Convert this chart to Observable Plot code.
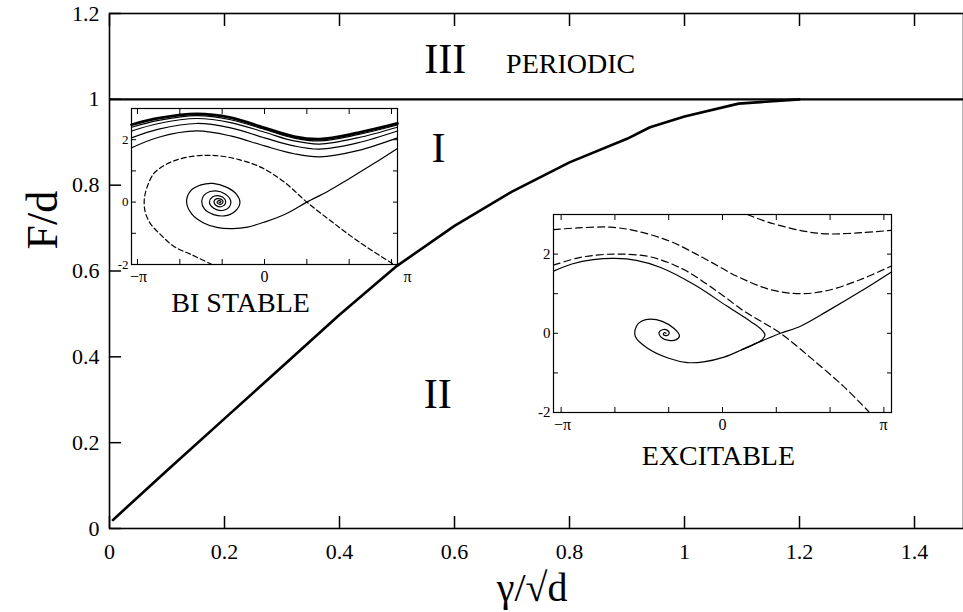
<!DOCTYPE html>
<html><head><meta charset="utf-8">
<script src="https://cdn.jsdelivr.net/npm/d3@7"></script>
<script src="https://cdn.jsdelivr.net/npm/@observablehq/plot@0.6"></script>
<style>
html,body{margin:0;padding:0;background:#fff;}
#wrap{position:relative;width:963px;height:612px;overflow:hidden;background:#fff;}
#wrap text{font-family:'Liberation Serif','Times New Roman','DejaVu Serif',serif;}
</style></head><body><div id="wrap"></div>
<script>
const SERIF = "'Liberation Serif', 'Times New Roman', 'DejaVu Serif', serif";

// ---- main phase diagram ----
const gammaValues = [0.006, 0.10, 0.20, 0.30, 0.40, 0.50, 0.60, 0.70, 0.80, 0.90, 0.94, 1.00, 1.094, 1.20];
const boundaryFd  = [0.02, 0.135, 0.256, 0.377, 0.498, 0.612, 0.705, 0.785, 0.853, 0.908, 0.935, 0.96, 0.99, 1.0];
const periodicFd = [1];
const xTickValues = [0, 0.2, 0.4, 0.6, 0.8, 1, 1.2, 1.4];
const yTickValues = [0, 0.2, 0.4, 0.6, 0.8, 1, 1.2];
const regionLabels = ["I", "II", "III", "PERIODIC"];
const insetTitles = ["BI STABLE", "EXCITABLE"];
const axisTitles = ["F/d", "γ/√d"];

// ---- phase-portrait insets (phase, velocity) ----
const phaseXTicks = [-3, -2, -1, 0, 1, 2, 3];
const phaseYTicks = [-2, -1, 0, 1, 2, 3];
const phaseXLabelValues = [-Math.PI, 0, Math.PI];
const phaseXLabels = ["−π", "0", "π"];
const phaseYLabelValues = [-2, 0, 2];
const phaseYLabels = ["-2", "0", "2"];

// BI STABLE
const runPhi = [-3.14, -2.5, -1.6, -0.8, 0, 0.7, 1.3, 2.2, 3.14];
const bsRun5 = [1.74, 2.08, 2.28, 2.12, 1.80, 1.55, 1.45, 1.65, 2.06];
const bsRun4 = [2.06, 2.34, 2.52, 2.38, 2.06, 1.80, 1.70, 1.90, 2.28];
const bsRun3 = [2.28, 2.52, 2.68, 2.55, 2.24, 1.96, 1.86, 2.06, 2.40];
const bsRun2 = [2.40, 2.62, 2.77, 2.64, 2.33, 2.05, 1.96, 2.16, 2.47];
const bsRun1 = [2.48, 2.69, 2.83, 2.71, 2.38, 2.10, 2.02, 2.22, 2.52];
const bsUnstable = [[3.14,1.72],[2.6,1.25],[2.0,0.75],[1.5,0.35],[1.0,0.0],[0.5,-0.38],[0.0,-0.64],[-0.4,-0.8],
  [-0.75,-0.85],[-1.1,-0.82],[-1.45,-0.66],[-1.72,-0.38],[-1.84,0.0],[-1.75,0.35],[-1.5,0.55],[-1.22,0.6],
  [-0.9,0.48],[-0.66,0.25],[-0.58,-0.02],[-0.7,-0.3],[-0.95,-0.44],[-1.2,-0.4],[-1.42,-0.22],[-1.48,0.05],
  [-1.38,0.28],[-1.15,0.36],[-0.93,0.26],[-0.8,0.05],[-0.84,-0.17],[-1.02,-0.27],[-1.2,-0.2],[-1.3,-0.02],
  [-1.23,0.16],[-1.07,0.2],[-0.94,0.1],[-0.93,-0.06],[-1.03,-0.15],[-1.15,-0.1],[-1.19,0.03],[-1.12,0.11],
  [-1.0,0.07],[-0.99,-0.03],[-1.06,-0.07],[-1.12,-0.01],[-1.08,0.05],[-1.03,0.02],[-1.05,-0.02],[-1.07,0.0]];
const bsStable = [[-1.24,-2.0],[-1.7,-1.7],[-2.14,-1.42],[-2.45,-1.05],[-2.70,-0.68],[-2.82,-0.3],[-2.84,0.08],
  [-2.78,0.45],[-2.62,0.91],[-2.4,1.15],[-2.14,1.32],[-1.75,1.46],[-1.35,1.50],[-1.0,1.47],[-0.6,1.36],
  [-0.09,1.12],[0.46,0.65],[1.0,0.0],[1.64,-0.68],[2.27,-1.31],[3.02,-1.97]];

// EXCITABLE
const exStable1 = [[0.46,3.0],[0.75,2.85],[1.02,2.74],[1.51,2.58],[1.95,2.51],[2.57,2.54],[3.14,2.6]];
const exStable2 = [[-3.14,2.62],[-2.70,2.66],[-2.08,2.68],[-1.59,2.58],[-0.97,2.32],[-0.35,1.90],[0.27,1.44],
  [0.90,1.10],[1.45,1.0],[1.95,1.08],[2.57,1.36],[3.14,1.70]];
const exStable3 = [[-3.14,1.72],[-2.70,1.90],[-2.3,1.98],[-1.89,2.0],[-1.34,1.93],[-0.72,1.61],[-0.10,1.06],
  [0.40,0.56],[0.77,0.26],[1.08,0.0],[1.64,-0.62],[2.25,-1.34],[2.72,-1.98]];
const exUnstableRight = [[0.35,-0.42],[0.7,-0.21],[1.08,0.0],[1.45,0.18],[1.95,0.56],[2.57,1.06],[3.14,1.55]];
const exUnstableMain = [[-3.14,1.57],[-2.8,1.75],[-2.4,1.86],[-2.0,1.89],[-1.6,1.84],[-1.15,1.66],[-0.53,1.23],
  [0.09,0.68],[0.52,0.30],[0.72,0.10],[0.79,-0.04],[0.74,-0.16],[0.55,-0.30],[0.35,-0.42],[0.03,-0.6],
  [-0.35,-0.72],[-0.65,-0.74],[-1.0,-0.63],[-1.4,-0.37],[-1.62,-0.08],[-1.6,0.18],[-1.5,0.31],[-1.34,0.36],
  [-1.12,0.3],[-0.9,0.12],[-0.8,-0.06],[-0.86,-0.16],[-1.0,-0.18],[-1.14,-0.1],[-1.18,0.02],[-1.12,0.09],
  [-1.03,0.08],[-0.99,0.0],[-1.04,-0.06],[-1.1,-0.03],[-1.08,0.02],[-1.05,0.0]];

const wrap = document.getElementById("wrap");
function place(el, left, top) {
  el.style.position = "absolute";
  el.style.left = left + "px";
  el.style.top = top + "px";
  wrap.appendChild(el);
}

const boundary = gammaValues.map((g, i) => ({g, f: boundaryFd[i]}));
const T = {fontFamily: SERIF, fill: "black"};
const main = Plot.plot({
  width: 963, height: 612,
  marginLeft: 109, marginRight: 0, marginTop: 13, marginBottom: 84,
  x: {domain: [0, 1.4852]},
  y: {domain: [0, 1.2]},
  style: {fontFamily: SERIF, fontSize: "22px", color: "black", background: "transparent", overflow: "visible"},
  marks: [
    Plot.axisX({anchor: "bottom", ticks: xTickValues, tickSize: -12, tickPadding: 27, tickFormat: d => String(d), label: null, strokeWidth: 1.5, fontSize: 22, fontFamily: SERIF}),
    Plot.axisX({anchor: "top", ticks: xTickValues, tickSize: -12, tickFormat: () => "", label: null, strokeWidth: 1.5}),
    Plot.axisY({anchor: "left", ticks: yTickValues, tickSize: -12, tickPadding: 22, tickFormat: d => String(d), label: null, strokeWidth: 1.5, fontSize: 22, fontFamily: SERIF}),
    Plot.ruleY(periodicFd, {stroke: "black", strokeWidth: 2.4}),
    Plot.line(boundary, {x: "g", y: "f", stroke: "black", strokeWidth: 2.6}),
    Plot.frame({stroke: "black", strokeWidth: 1.6}),
    Plot.text([regionLabels[2]], {...T, x: 0.584, y: 1.062, text: d => d, fontSize: 42, lineAnchor: "bottom"}),
    Plot.text([regionLabels[3]], {...T, x: 0.802, y: 1.062, text: d => d, fontSize: 28, lineAnchor: "bottom"}),
    Plot.text([regionLabels[0]], {...T, x: 0.572, y: 0.854, text: d => d, fontSize: 42, lineAnchor: "bottom"}),
    Plot.text([regionLabels[1]], {...T, x: 0.571, y: 0.280, text: d => d, fontSize: 42, lineAnchor: "bottom"}),
    Plot.text([insetTitles[0]], {...T, x: 0.228, y: 0.504, text: d => d, fontSize: 28, lineAnchor: "bottom"}),
    Plot.text([insetTitles[1]], {...T, x: 1.059, y: 0.147, text: d => d, fontSize: 28, lineAnchor: "bottom"}),
    Plot.text([axisTitles[0]], {...T, frameAnchor: "left", y: 0.65, dx: -67, rotate: -90, text: d => d, fontSize: 44}),
    Plot.text([axisTitles[1]], {...T, frameAnchor: "bottom", x: 0.735, dy: 72, text: d => d, fontSize: 40, lineAnchor: "bottom"})
  ]
});
place(main, 0, 0);

function phasePortrait({left, top, w, h, yLabelSize, dash, labelShift, lines}) {
  const mL = 32, mR = 22, mT = 6, mB = 26;
  const el = Plot.plot({
    width: w + mL + mR, height: h + mT + mB,
    marginLeft: mL, marginRight: mR, marginTop: mT, marginBottom: mB,
    x: {domain: [-Math.PI, Math.PI]},
    y: {domain: [-2, 3]},
    style: {fontFamily: SERIF, fontSize: "16px", color: "black", background: "transparent", overflow: "visible"},
    marks: [
      Plot.axisX({anchor: "bottom", ticks: phaseXTicks, tickSize: -5, tickFormat: () => "", label: null}),
      Plot.axisX({anchor: "top", ticks: phaseXTicks, tickSize: -5, tickFormat: () => "", label: null}),
      Plot.axisY({anchor: "left", ticks: phaseYTicks, tickSize: -5, tickFormat: () => "", label: null}),
      Plot.axisY({anchor: "right", ticks: phaseYTicks, tickSize: -5, tickFormat: () => "", label: null}),
      ...phaseXLabelValues.map((v, i) => Plot.axisX({anchor: "bottom", ticks: [v], tickSize: 0, tickPadding: 6,
        fontSize: 16, fontFamily: SERIF, dx: labelShift[i], tickFormat: () => phaseXLabels[i], label: null})),
      Plot.axisY({anchor: "left", ticks: phaseYLabelValues, tickSize: 0, tickPadding: 3, fontSize: yLabelSize, fontFamily: SERIF,
        tickFormat: d => phaseYLabels[phaseYLabelValues.indexOf(d)], label: null}),
      ...lines.map(l => Plot.line(l.data, {curve: "catmull-rom", stroke: "black", strokeWidth: l.width || 1.2,
        strokeDasharray: l.dashed ? dash : null})),
      Plot.frame({stroke: "black", strokeWidth: 1.2})
    ]
  });
  place(el, left - mL, top - mT);
}

const pairs = vals => runPhi.map((p, i) => [p, vals[i]]);
phasePortrait({left: 131, top: 108, w: 266, h: 156, yLabelSize: 13, dash: "5,3", labelShift: [7, 0, 10], lines: [
  {data: pairs(bsRun5)}, {data: pairs(bsRun4)}, {data: pairs(bsRun3)}, {data: pairs(bsRun2)},
  {data: pairs(bsRun1), width: 2.8},
  {data: bsUnstable}, {data: bsStable, dashed: true}
]});
phasePortrait({left: 553, top: 214, w: 338, h: 198, yLabelSize: 15, dash: "7,4", labelShift: [9, 0, -8], lines: [
  {data: exStable1, dashed: true}, {data: exStable2, dashed: true}, {data: exStable3, dashed: true},
  {data: exUnstableRight}, {data: exUnstableMain}
]});
</script></body></html>
